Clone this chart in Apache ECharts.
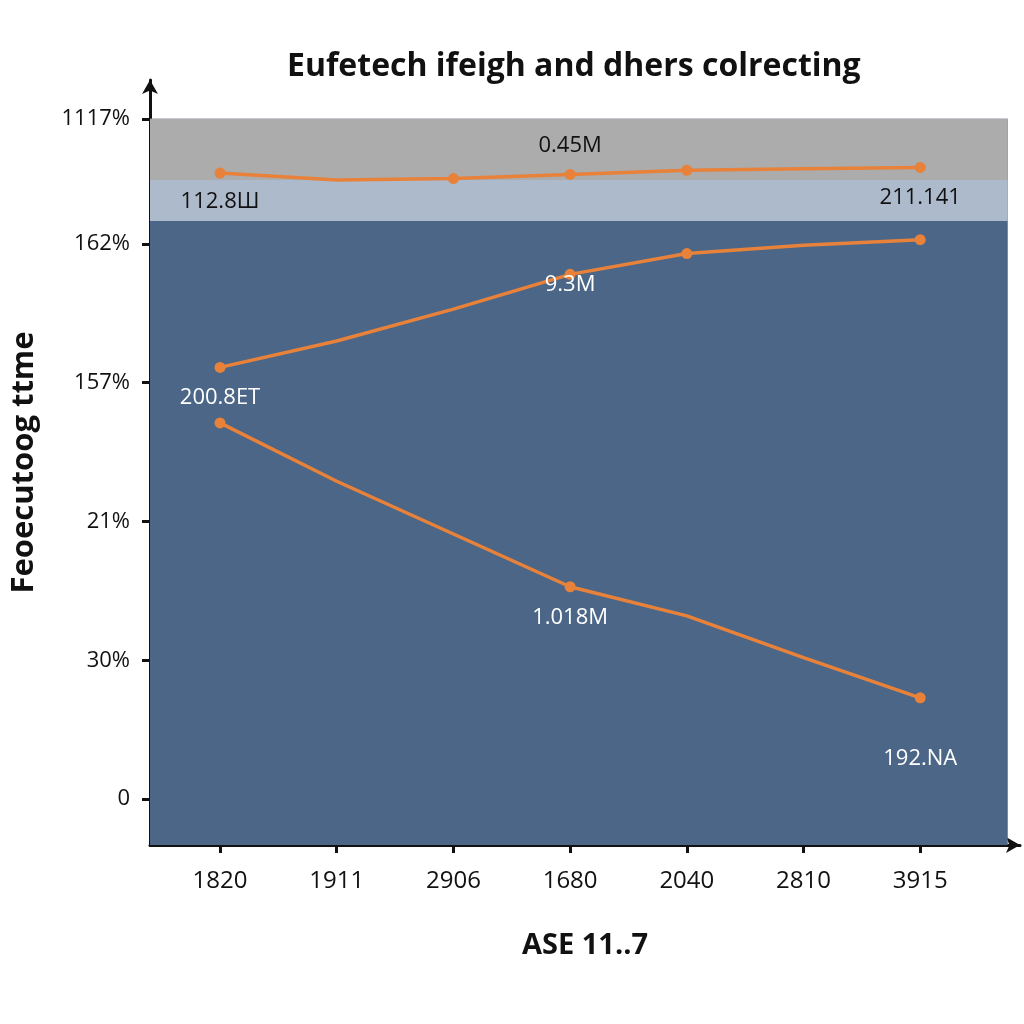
<!DOCTYPE html>
<html><head><meta charset="utf-8">
<script src="https://cdn.jsdelivr.net/npm/echarts@6/dist/echarts.min.js"></script>
<style>html,body{margin:0;padding:0;background:#fff}#c{width:1024px;height:1024px}</style>
</head><body><div id="c"></div>
<script>
const categories = ['1820','1911','2906','1680','2040','2810','3915'];
const yTickValues = [0, 1, 2, 3, 4, 4.9];
const yTickLabels = ['0', '30%', '21%', '157%', '162%', '1117%'];
const topSeries = [4.51, 4.46, 4.47, 4.50, 4.53, 4.54, 4.55];
const midSeries = [3.11, 3.30, 3.53, 3.78, 3.93, 3.99, 4.03];
const lowSeries = [2.71, 2.29, 1.91, 1.53, 1.32, 1.02, 0.73];
const topMarkers = [true, false, true, true, true, false, true];
const midMarkers = [true, false, false, true, true, false, true];
const lowMarkers = [true, false, false, true, false, false, true];
const topLabels = ['112.8Ш', '', '', '0.45M', '', '', '211.141'];
const midLabels = ['200.8ET', '', '', '9.3M', '', '', ''];
const lowLabels = ['', '', '', '1.018M', '', '', '192.NA'];
const bandGray = [4.46, 4.9];
const bandLight = [4.165, 4.46];
const plotBox = {x: [-0.6, 6.75], y: [-0.33, 4.9]};

const FONT = 'Open Sans';
const ORANGE = '#e8823a';

function buildData(vals, markers, labels, cfg) {
  return vals.map((v, i) => {
    const item = {value: [i, v]};
    if (!markers[i]) item.symbol = 'none';
    if (labels[i]) {
      const c = cfg[i] || {};
      item.label = {
        show: true, formatter: labels[i], position: c.pos || 'bottom',
        distance: c.dist, color: c.color || '#fff',
        fontSize: 22, fontFamily: FONT
      };
    }
    return item;
  });
}

const chart = echarts.init(document.getElementById('c'));
chart.setOption({
  backgroundColor: '#fff',
  animation: false,
  title: {
    text: 'Eufetech ifeigh and dhers colrecting',
    left: 282, top: 46,
    textStyle: {fontFamily: FONT, fontWeight: 'bold', fontSize: 32, color: '#111'}
  },
  grid: {left: 150, right: 4, top: 80, bottom: 179},
  xAxis: {
    type: 'value', min: -0.6, max: 6.855,
    name: 'ASE 11..7', nameLocation: 'middle', nameGap: 86,
    nameTextStyle: {fontFamily: FONT, fontWeight: 'bold', fontSize: 29, color: '#111'},
    splitLine: {show: false},
    axisLine: {show: true, onZero: false, symbol: ['none', 'arrow'], symbolSize: [12, 14],
      lineStyle: {color: '#111', width: 3}},
    axisTick: {show: true, customValues: [0,1,2,3,4,5,6], length: 8, lineStyle: {color: '#111', width: 3}},
    axisLabel: {customValues: [0,1,2,3,4,5,6], formatter: v => categories[Math.round(v)],
      fontFamily: FONT, fontSize: 24, color: '#111', margin: 24}
  },
  yAxis: {
    type: 'value', min: -0.33, max: 5.18,
    name: 'Feoecutoog ttme', nameLocation: 'middle', nameGap: 110, nameRotate: 90,
    nameTextStyle: {fontFamily: FONT, fontWeight: 'bold', fontSize: 31, color: '#111'},
    splitLine: {show: false},
    axisLine: {show: true, onZero: false, symbol: ['none', 'arrow'], symbolSize: [12, 14],
      lineStyle: {color: '#111', width: 3}},
    axisTick: {show: true, customValues: yTickValues, length: 8, lineStyle: {color: '#111', width: 3}},
    axisLabel: {customValues: yTickValues,
      formatter: v => { const k = yTickValues.findIndex(t => Math.abs(t - v) < 1e-6); return k >= 0 ? yTickLabels[k] : ''; },
      fontFamily: FONT, fontSize: 22, color: '#111', margin: 20}
  },
  series: [
    {
      type: 'line', silent: true, symbol: 'none', data: [],
      markArea: {silent: true, data: [
        [{coord: [plotBox.x[0], plotBox.y[0]], itemStyle: {color: '#4b6686'}}, {coord: [plotBox.x[1], plotBox.y[1]]}],
        [{coord: [plotBox.x[0], bandGray[0]], itemStyle: {color: '#acacac'}}, {coord: [plotBox.x[1], bandGray[1]]}],
        [{coord: [plotBox.x[0], bandLight[0]], itemStyle: {color: '#adbacc'}}, {coord: [plotBox.x[1], bandLight[1]]}]
      ]}
    },
    {
      type: 'line', data: buildData(topSeries, topMarkers, topLabels, {
        0: {pos: 'bottom', dist: 12, color: '#111'},
        3: {pos: 'top', dist: 12, color: '#111'},
        6: {pos: 'bottom', dist: 14, color: '#111'}
      }),
      symbol: 'circle', symbolSize: 11, lineStyle: {color: ORANGE, width: 3.5}, itemStyle: {color: ORANGE}
    },
    {
      type: 'line', data: buildData(midSeries, midMarkers, midLabels, {
        0: {pos: 'bottom', dist: 14},
        3: {pos: 'bottom', dist: -6}
      }),
      symbol: 'circle', symbolSize: 11, lineStyle: {color: ORANGE, width: 3.5}, itemStyle: {color: ORANGE}
    },
    {
      type: 'line', data: buildData(lowSeries, lowMarkers, lowLabels, {
        3: {pos: 'bottom', dist: 14},
        6: {pos: 'bottom', dist: 44}
      }),
      symbol: 'circle', symbolSize: 11, lineStyle: {color: ORANGE, width: 3.5}, itemStyle: {color: ORANGE}
    }
  ]
});
</script></body></html>
